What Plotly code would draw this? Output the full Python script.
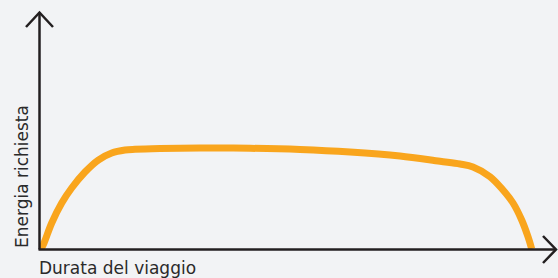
import plotly.graph_objects as go

# Data (arbitrary units: duration 0-100, energy 0-100)
durata = [0.2, 0.78, 2.27, 4.21, 6.14, 8.72, 11.30, 13.90, 16.47, 18.41, 23.26, 31.01,
          40.70, 50.39, 60.08, 69.77, 77.52, 81.40, 83.91, 87.21, 89.73, 91.67, 93.35,
          94.57, 95.29]
energia = [0, 2.53, 10.97, 19.41, 25.74, 32.49, 37.55, 40.51, 41.77, 42.07, 42.41, 42.62,
           42.49, 41.98, 40.93, 39.24, 37.00, 35.86, 34.60, 30.51, 24.89, 19.41, 12.24,
           5.19, 0]
x_label = "Durata del viaggio"
y_label = "Energia richiesta"

W, H = 558, 278
L, R, T, B = 40, 2, 12, 29
PW, PH = W - L - R, H - T - B

def px(x):
    return (x - L) / PW

def py(y):
    return (H - B - y) / PH

AX = "#231f20"
FONT = "DejaVu Sans"
fig = go.Figure()
fig.add_trace(go.Scatter(x=durata, y=energia, mode="lines",
                         line=dict(color="#f9a51d", width=7, shape="spline", smoothing=1),
                         hoverinfo="skip", showlegend=False))

shapes = [
    dict(type="path", xref="paper", yref="paper",
         path=f"M {px(39.5)} {py(249.5)} L {px(39.5)} {py(12.5)}",
         line=dict(color=AX, width=2.5)),
    dict(type="path", xref="paper", yref="paper",
         path=f"M {px(26)} {py(27)} L {px(39.5)} {py(12.5)} L {px(53)} {py(27)}",
         line=dict(color=AX, width=2.5)),
    dict(type="path", xref="paper", yref="paper",
         path=f"M {px(38.5)} {py(249.5)} L {px(556)} {py(249.5)}",
         line=dict(color=AX, width=2.5)),
    dict(type="path", xref="paper", yref="paper",
         path=f"M {px(543)} {py(236)} L {px(556)} {py(249.5)} L {px(543)} {py(263)}",
         line=dict(color=AX, width=2.5)),
]

annotations = [
    dict(text=x_label, xref="paper", yref="paper", x=px(37), y=py(268),
         xanchor="left", yanchor="middle", showarrow=False,
         font=dict(family=FONT, size=17, color="#2a2a2a")),
    dict(text=y_label, xref="paper", yref="paper", x=px(22), y=py(177),
         xanchor="center", yanchor="middle", showarrow=False, textangle=-90,
         font=dict(family=FONT, size=17, color="#2a2a2a")),
]

fig.update_layout(
    width=W, height=H,
    margin=dict(l=L, r=R, t=T, b=B),
    paper_bgcolor="#f2f3f5", plot_bgcolor="#f2f3f5",
    xaxis=dict(range=[0, 100], visible=False, fixedrange=True),
    yaxis=dict(range=[0, 100], visible=False, fixedrange=True),
    shapes=shapes, annotations=annotations,
)

fig.write_html("out.html", config={"displayModeBar": False},
               post_script="document.body.style.margin='0';document.body.style.background='#f2f3f5';")
